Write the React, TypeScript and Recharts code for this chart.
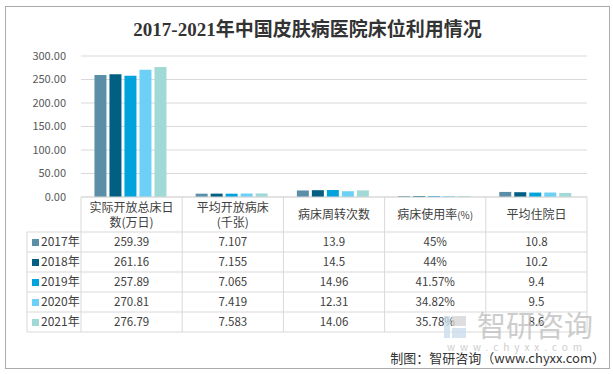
import { BarChart, Bar, XAxis, YAxis, CartesianGrid } from "recharts";

const categories = ["实际开放总床日数(万日)", "平均开放病床(千张)", "病床周转次数", "病床使用率(%)", "平均住院日"];
const headerLines = [["实际开放总床日", "数(万日)"], ["平均开放病床", "(千张)"], ["病床周转次数"], ["病床使用率(%)"], ["平均住院日"]];
const years = ["2017年", "2018年", "2019年", "2020年", "2021年"];
const v2017 = [259.39, 7.107, 13.9, 0.45, 10.8];
const v2018 = [261.16, 7.155, 14.5, 0.44, 10.2];
const v2019 = [257.89, 7.065, 14.96, 0.4157, 9.4];
const v2020 = [270.81, 7.419, 12.31, 0.3482, 9.5];
const v2021 = [276.79, 7.583, 14.06, 0.3578, 8.6];
const yTicks = [0, 50, 100, 150, 200, 250, 300];

const series = [v2017, v2018, v2019, v2020, v2021];
const colors = ["#5b8fa8", "#005f83", "#00a3dc", "#6dd0f7", "#a1d9d6"];

const data = categories.map((name, i) => {
  const row: Record<string, string | number> = { name };
  years.forEach((y, s) => {
    row[y] = series[s][i];
  });
  return row;
});

const W = 613;
const H = 374;
const PLOT_LEFT = 81;
const PLOT_RIGHT = 587;
const PLOT_TOP = 56;
const PLOT_BOTTOM = 197;
const COL_W = (PLOT_RIGHT - PLOT_LEFT) / categories.length;
const HEAD_H = 35;
const ROW_H = 20;
const LEGEND_W = 54;
const FONT = "'Noto Sans CJK SC', 'Noto Sans', sans-serif";
const LINE = "#d9d9d9";
const TEXT = "#404040";

function cellText(v: number, i: number) {
  if (i === 3) return Number((v * 100).toFixed(2)).toString() + "%";
  return String(v);
}

function HeaderText({ x, y, t }: { x: number; y: number; t: string }) {
  // the "(%)" suffix is drawn a bit smaller, as in the source
  const pct = t.endsWith("(%)");
  return (
    <text x={x} y={y} dy="0.36em" textAnchor="middle" fontSize={12} fill={TEXT}>
      {pct ? (
        <>
          <tspan>{t.slice(0, -3)}</tspan>
          <tspan fontSize={10}>(%)</tspan>
        </>
      ) : (
        t
      )}
    </text>
  );
}

function TableColumn(props: any) {
  const { x, index } = props;
  const left = x - COL_W / 2;
  const right = x + COL_W / 2;
  const top = PLOT_BOTTOM;
  const rowsTop = top + HEAD_H;
  const bottom = rowsTop + ROW_H * years.length;
  const lines = headerLines[index];
  const headY = lines.length === 1 ? [top + HEAD_H / 2] : [top + 11, top + 26];
  return (
    <g fontFamily={FONT}>
      {index === 0 && (
        <g>
          <line x1={left} x2={left} y1={top} y2={bottom} stroke={LINE} />
          <line x1={left - LEGEND_W} x2={left - LEGEND_W} y1={rowsTop} y2={bottom} stroke={LINE} />
          {years.map((y, s) => (
            <g key={y}>
              <line x1={left - LEGEND_W} x2={left} y1={rowsTop + ROW_H * s} y2={rowsTop + ROW_H * s} stroke={LINE} />
              <rect x={left - LEGEND_W + 5} y={rowsTop + ROW_H * s + 7} width={7} height={7} fill={colors[s]} />
              <text x={left - LEGEND_W + 14} y={rowsTop + ROW_H * s + ROW_H / 2} dy="0.36em" fontSize={12} fill={TEXT}>
                {y}
              </text>
            </g>
          ))}
          <line x1={left - LEGEND_W} x2={left} y1={bottom} y2={bottom} stroke={LINE} />
        </g>
      )}
      <line x1={right} x2={right} y1={top} y2={bottom} stroke={LINE} />
      {lines.map((t, k) => (
        <HeaderText key={k} x={x} y={headY[k]} t={t} />
      ))}
      {years.map((y, s) => (
        <g key={y}>
          <line x1={left} x2={right} y1={rowsTop + ROW_H * s} y2={rowsTop + ROW_H * s} stroke={LINE} />
          <text x={x} y={rowsTop + ROW_H * s + ROW_H / 2} dy="0.36em" textAnchor="middle" fontSize={11.5} fill={TEXT}>
            {cellText(series[s][index], index)}
          </text>
        </g>
      ))}
      <line x1={left} x2={right} y1={bottom} y2={bottom} stroke={LINE} />
    </g>
  );
}

export default function App() {
  return (
    <div style={{ position: "absolute", left: 0, top: 0, width: W, height: H, background: "#fff" }}>
      <div
        style={{
          position: "absolute",
          left: 5,
          top: 6,
          width: 605,
          height: 363,
          border: "1px solid #ababab",
          boxSizing: "border-box",
        }}
      />
      <div
        style={{
          position: "absolute",
          left: 0,
          top: 18,
          width: W + 2,
          textAlign: "center",
          fontFamily: "'Liberation Serif', 'Noto Sans CJK SC', serif",
          fontWeight: "bold",
          fontSize: 19,
          color: "#333",
          lineHeight: "24px",
        }}
      >
        2017-2021年中国皮肤病医院床位利用情况
      </div>
      <div style={{ position: "absolute", left: 0, top: 0 }}>
        <BarChart
          width={W}
          height={H}
          data={data}
          margin={{ top: PLOT_TOP, right: W - PLOT_RIGHT, bottom: 0, left: 0 }}
          barCategoryGap="13.3%"
          barGap={3}
        >
          <CartesianGrid vertical={false} stroke={LINE} />
          <YAxis
            width={PLOT_LEFT}
            domain={[0, 300]}
            ticks={yTicks}
            axisLine={false}
            tickLine={false}
            tickSize={0}
            tickMargin={15}
            tickFormatter={(v: number) => v.toFixed(2)}
            tick={{ fontSize: 11, fill: "#595959", fontFamily: FONT }}
          />
          <XAxis
            dataKey="name"
            height={H - PLOT_BOTTOM}
            interval={0}
            axisLine={{ stroke: LINE }}
            tickLine={false}
            tick={(p: any) => <TableColumn {...p} />}
          />
          {years.map((y, s) => (
            <Bar key={y} dataKey={y} fill={colors[s]} minPointSize={1} isAnimationActive={false} />
          ))}
        </BarChart>
      </div>
      <svg style={{ position: "absolute", left: 0, top: 0, pointerEvents: "none" }} width={W} height={H}>
        <g fontFamily={FONT} fill="#bdbdbd" opacity={0.75}>
          <rect x={444} y={316} width={6} height={22} fill="#c7dcec" />
          <rect x={452} y={316} width={14} height={10} fill="#d3d3d3" />
          <rect x={452} y={328} width={14} height={10} fill="#c7dcec" />
          <text x={535} y={327} dy="0.36em" textAnchor="middle" fontSize={29}>
            智研咨询
          </text>
          <text x={517} y={347} dy="0.36em" textAnchor="middle" fontSize={10} letterSpacing={5}>
            www.chyxx.com
          </text>
        </g>
        <text x={605} y={358} dy="0.36em" textAnchor="end" fontSize={13} fontFamily={FONT} fill="#333">
          制图：智研咨询（www.chyxx.com）
        </text>
      </svg>
    </div>
  );
}
